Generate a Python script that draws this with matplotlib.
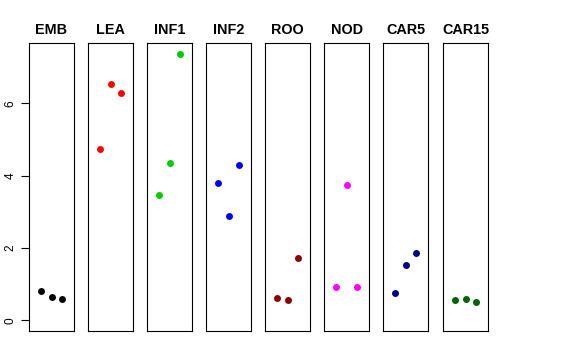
import matplotlib
matplotlib.use('Agg')
import matplotlib.pyplot as plt

plt.rcParams['font.family'] = ['Liberation Sans', 'DejaVu Sans']

groups = ['EMB', 'LEA', 'INF1', 'INF2', 'ROO', 'NOD', 'CAR5', 'CAR15']
colors = ['black', 'red', '#00CD00', 'blue', '#8B0000', 'magenta', '#00008B', '#006400']
values = [
    [0.82, 0.64, 0.60],
    [4.73, 6.52, 6.27],
    [3.47, 4.34, 7.37],
    [3.80, 2.89, 4.30],
    [0.62, 0.55, 1.73],
    [0.91, 3.75, 0.93],
    [0.75, 1.52, 1.86],
    [0.57, 0.60, 0.51],
]
yticks = [0, 2, 4, 6]

ymax = max(max(v) for v in values)
ylim = (0 - 0.04 * ymax, ymax * 1.04)

fig = plt.figure(figsize=(5.76, 3.6), dpi=100)

lefts = [29, 88, 147, 206, 265, 324, 383, 443]
for i, g in enumerate(groups):
    ax = fig.add_axes([lefts[i] / 576, 1 - 331 / 360, 45 / 576, 288 / 360])
    ax.plot([1, 2, 3], values[i], 'o', color=colors[i], markersize=5, markeredgewidth=0)
    ax.set_xlim(-0.2, 4.2)
    ax.set_ylim(*ylim)
    ax.set_xticks([])
    ax.set_title(g, fontsize=10.4, fontweight='bold', pad=6.5)
    for s in ax.spines.values():
        s.set_linewidth(0.8)
    if i == 0:
        ax.set_yticks(yticks)
        ax.set_yticklabels([str(t) for t in yticks], rotation=90, va='center', fontsize=8.6)
        ax.tick_params(axis='y', length=5.5, width=0.8, pad=3.5)
    else:
        ax.set_yticks([])

fig.savefig('out.png', dpi=100)
